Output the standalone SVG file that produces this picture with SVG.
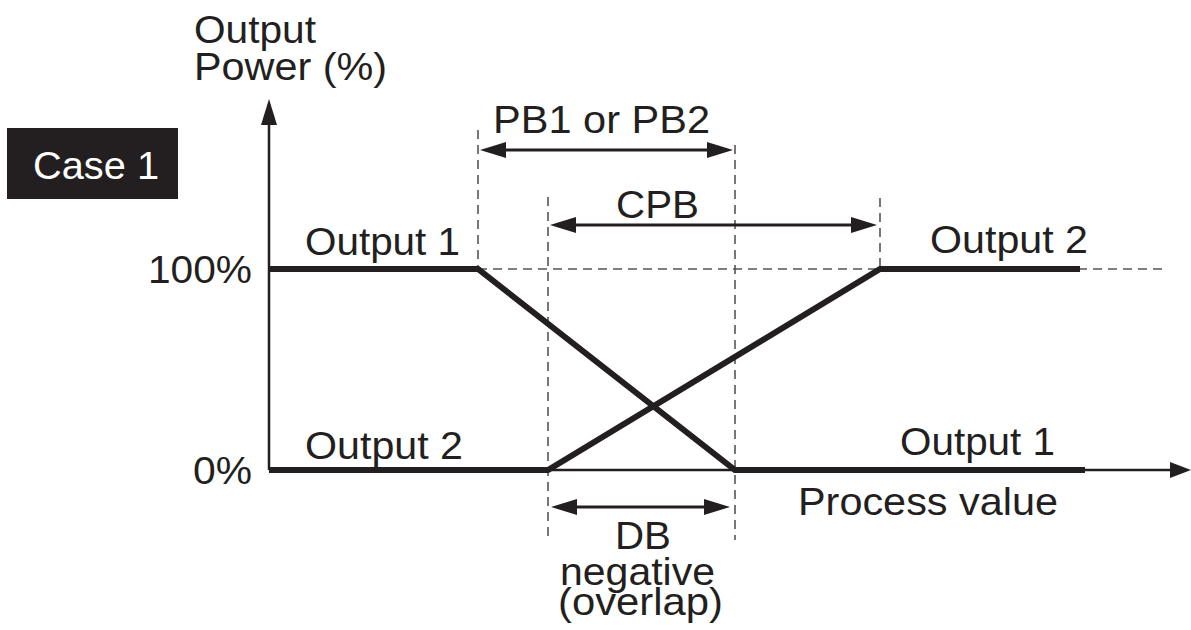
<svg xmlns="http://www.w3.org/2000/svg" width="1191" height="630" viewBox="0 0 1191 630">
<style>
text{font-family:"Liberation Sans",Arial,sans-serif;font-size:39px;fill:#231f20}
.axis{stroke:#231f20;stroke-width:2.5;fill:none}
.bold{stroke:#231f20;stroke-width:6;fill:none;stroke-linejoin:miter}
.dash{stroke:#555;stroke-width:1.6;stroke-dasharray:9,6;fill:none}
.dim{stroke:#231f20;stroke-width:3;fill:none}
.head{fill:#231f20}
</style>
<rect width="1191" height="630" fill="#fff"/>
<g id="case-label">
<rect x="7" y="128" width="171" height="71" fill="#231f20"/>
<text x="33" y="179" textLength="126" lengthAdjust="spacingAndGlyphs" style="fill:#fff">Case 1</text>
</g>
<g id="axis-labels">
<text x="194" y="43" textLength="122" lengthAdjust="spacingAndGlyphs">Output</text>
<text x="194" y="80" textLength="193" lengthAdjust="spacingAndGlyphs">Power (%)</text>
<text x="148" y="283" textLength="104" lengthAdjust="spacingAndGlyphs">100%</text>
<text x="193" y="484" textLength="59" lengthAdjust="spacingAndGlyphs">0%</text>
<text x="798" y="515" textLength="260" lengthAdjust="spacingAndGlyphs">Process value</text>
</g>
<g id="guides">
<line class="dash" x1="478" y1="130" x2="478" y2="269"/>
<line class="dash" x1="735" y1="145" x2="735" y2="540"/>
<line class="dash" x1="548" y1="197" x2="548" y2="540"/>
<line class="dash" x1="880" y1="198" x2="880" y2="269"/>
<line class="dash" x1="478" y1="269" x2="1165" y2="269"/>
</g>
<g id="axes">
<line class="axis" x1="269" y1="470" x2="269" y2="122"/>
<polygon class="head" points="269,99 261,125 277,125"/>
<line class="axis" x1="269" y1="470" x2="1175" y2="470"/>
<polygon class="head" points="1191,470 1170,462 1170,478"/>
</g>
<g id="connectors">
<polyline id="output1" class="bold" points="269,269 478,269 735,470 1085,470"/>
<polyline id="output2" class="bold" points="269,470 548,470 880,269 1080,269"/>
<line class="dim" x1="500" y1="150" x2="712" y2="150"/>
<polygon class="head" points="480,150 506,142 506,158"/>
<polygon class="head" points="733,150 707,142 707,158"/>
<line class="dim" x1="570" y1="225" x2="857" y2="225"/>
<polygon class="head" points="550,225 576,217 576,233"/>
<polygon class="head" points="877,225 851,217 851,233"/>
<line class="dim" x1="571" y1="507" x2="710" y2="507"/>
<polygon class="head" points="551,507 577,499 577,515"/>
<polygon class="head" points="730,507 704,499 704,515"/>
</g>
<g id="labels">
<text x="305" y="255" textLength="155" lengthAdjust="spacingAndGlyphs">Output 1</text>
<text x="305" y="459" textLength="158" lengthAdjust="spacingAndGlyphs">Output 2</text>
<text x="930" y="253" textLength="158" lengthAdjust="spacingAndGlyphs">Output 2</text>
<text x="900" y="455" textLength="155" lengthAdjust="spacingAndGlyphs">Output 1</text>
<text x="493" y="133" textLength="217" lengthAdjust="spacingAndGlyphs">PB1 or PB2</text>
<text x="616" y="218" textLength="83" lengthAdjust="spacingAndGlyphs">CPB</text>
<text x="615" y="549" textLength="56" lengthAdjust="spacingAndGlyphs">DB</text>
<text x="560" y="585" textLength="155" lengthAdjust="spacingAndGlyphs">negative</text>
<text x="558" y="615" textLength="165" lengthAdjust="spacingAndGlyphs">(overlap)</text>
</g>
</svg>
